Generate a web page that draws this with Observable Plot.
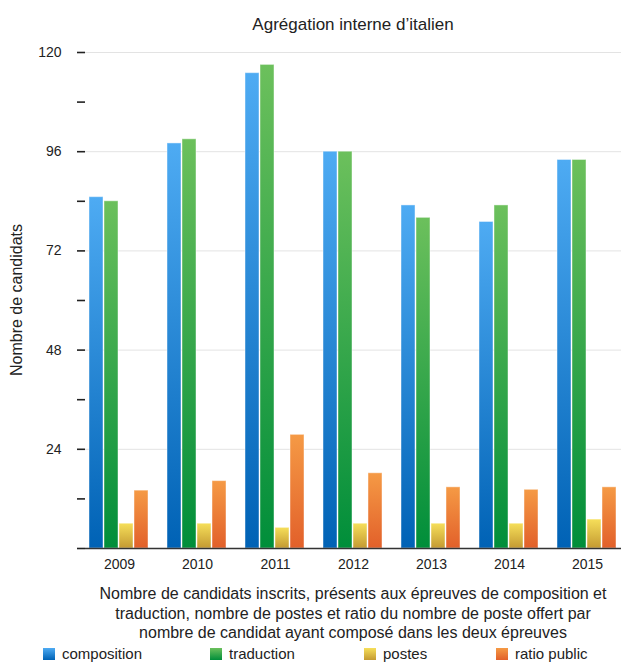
<!DOCTYPE html>
<html><head><meta charset="utf-8">
<script src="https://cdn.jsdelivr.net/npm/d3@7"></script>
<script src="https://cdn.jsdelivr.net/npm/@observablehq/plot@0.6"></script>
<style>
body{margin:0;background:#fff;font-family:"Liberation Sans",Arial,Helvetica,sans-serif;color:#222;}
#wrap{position:relative;width:621px;height:664px;overflow:hidden;background:#fff;}
#title{position:absolute;left:85px;width:536px;top:15px;text-align:center;font-size:17px;line-height:20px;white-space:nowrap;}
#chart{position:absolute;left:0;top:40px;}
#ylabel{position:absolute;left:17px;top:300px;transform:translate(-50%,-50%) rotate(-90deg);font-size:16px;line-height:18px;white-space:nowrap;z-index:2;}
#caption{position:absolute;left:85px;width:536px;top:584px;text-align:center;font-size:16px;line-height:19.5px;white-space:nowrap;}
#legend{position:absolute;top:645px;left:0;width:621px;height:19px;font-size:15px;line-height:18px;}
.item{position:absolute;top:0;display:flex;align-items:flex-start;white-space:nowrap;}
.sw{width:12px;height:12px;margin-right:7px;margin-top:3px;}
</style></head>
<body>
<div id="wrap">
  <div id="title"></div>
  <div id="chart"></div>
  <div id="ylabel"></div>
  <div id="caption"></div>
  <div id="legend"></div>
</div>
<script>
const title = "Agrégation interne d’italien";
const yLabel = "Nombre de candidats";
const captionLines = [
  "Nombre de candidats inscrits, présents aux épreuves de composition et",
  "traduction, nombre de postes et ratio du nombre de poste offert par",
  "nombre de candidat ayant composé dans les deux épreuves"
];
const years = ["2009", "2010", "2011", "2012", "2013", "2014", "2015"];
const series = ["composition", "traduction", "postes", "ratio public"];
const composition = [85, 98, 115, 96, 83, 79, 94];
const traduction = [84, 99, 117, 96, 80, 83, 94];
const postes = [6, 6, 5, 6, 6, 6, 7];
const ratioPublic = [14, 16.3, 27.5, 18.2, 14.8, 14.2, 14.8];
const yTicks = [0, 12, 24, 36, 48, 60, 72, 84, 96, 108, 120];
const yLabeled = [24, 48, 72, 96, 120];
const gradTop = ["#4eabf3", "#6cc05c", "#f6df5a", "#f59a45"];
const gradBottom = ["#0062b5", "#008e3a", "#c49a32", "#e2602a"];
const legendLeft = [43, 210, 364, 496];

const values = [composition, traduction, postes, ratioPublic];
const data = years.flatMap((yr, i) => series.map((s, k) => ({year: yr, series: s, value: values[k][i]})));

document.getElementById("title").textContent = title;
document.getElementById("ylabel").textContent = yLabel;
document.getElementById("caption").innerHTML = captionLines.join("<br>");

const chart = Plot.plot({
  width: 621,
  height: 538,
  marginTop: 12,
  marginBottom: 30,
  marginLeft: 85,
  marginRight: -10,
  style: {fontFamily: "Liberation Sans, Arial, sans-serif", fontSize: "14px", color: "#222", background: "transparent"},
  fx: {domain: years, paddingInner: 0, paddingOuter: 0, label: null},
  x: {domain: series, paddingInner: 0.1, paddingOuter: 0.633, align: 0.225, axis: null},
  y: {domain: [0, 120], axis: null},
  color: {domain: series, range: series.map((_, i) => `url(#grad${i})`)},
  marks: [
    Plot.gridY(yLabeled, {stroke: "#e3e3e3", strokeOpacity: 1}),
    Plot.barY(data, {fx: "year", x: "series", y: "value", fill: "series", stroke: "#ffffff", strokeOpacity: 0.45, strokeWidth: 1}),
    Plot.ruleY([0], {stroke: "#333", strokeWidth: 1.6}),
    Plot.axisY(yTicks, {tickSize: 8, tickPadding: 16, strokeWidth: 1.6, stroke: "#222", tickFormat: d => yLabeled.includes(d) ? String(d) : "", label: null, fontSize: 14}),
    Plot.axisFx({anchor: "bottom", tickSize: 0, tickPadding: 11, dx: -5, label: null, fontSize: 14})
  ]
});

const defs = d3.select(chart).insert("defs", ":first-child");
series.forEach((s, i) => {
  const g = defs.append("linearGradient").attr("id", `grad${i}`).attr("x1", 0).attr("y1", 0).attr("x2", 0).attr("y2", 1);
  g.append("stop").attr("offset", "0%").attr("stop-color", gradTop[i]);
  g.append("stop").attr("offset", "100%").attr("stop-color", gradBottom[i]);
});
document.getElementById("chart").appendChild(chart);

const legend = document.getElementById("legend");
series.forEach((s, i) => {
  const item = document.createElement("div");
  item.className = "item";
  item.style.left = legendLeft[i] + "px";
  const sw = document.createElement("div");
  sw.className = "sw";
  sw.style.background = `linear-gradient(${gradTop[i]}, ${gradBottom[i]})`;
  const t = document.createElement("span");
  t.textContent = s;
  item.appendChild(sw);
  item.appendChild(t);
  legend.appendChild(item);
});
</script>
</body></html>
